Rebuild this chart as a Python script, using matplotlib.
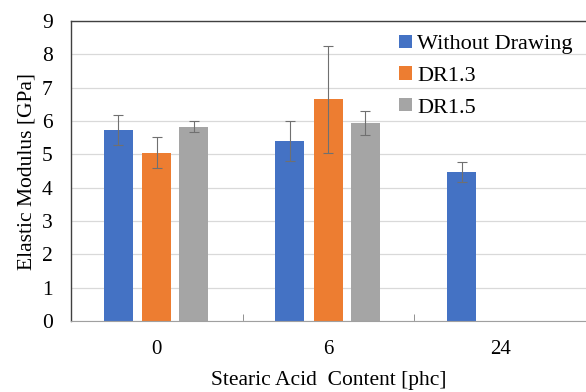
import numpy as np
import matplotlib.pyplot as plt

plt.rcParams['font.family'] = ['Liberation Serif', 'DejaVu Serif']

# Data
categories = ['0', '6', '24']
series_names = ['Without Drawing', 'DR1.3', 'DR1.5']
without_drawing = [5.73, 5.41, 4.48]
without_drawing_err = [0.44, 0.60, 0.30]
dr13 = [5.05, 6.65, np.nan]
dr13_err = [0.47, 1.60, np.nan]
dr15 = [5.83, 5.95, np.nan]
dr15_err = [0.17, 0.36, np.nan]

colors = ['#4472C4', '#ED7D31', '#A5A5A5']

fig = plt.figure(figsize=(5.86, 3.92), dpi=100)
ax = fig.add_axes([0.121, 0.181, 0.879, 0.765])

x = np.arange(len(categories))
bar_width = 0.17
offsets = [-0.225, 0.0, 0.215]
values = [without_drawing, dr13, dr15]
errors = [without_drawing_err, dr13_err, dr15_err]

for vals, errs, off, col, name in zip(values, errors, offsets, colors, series_names):
    ax.bar(x + off, vals, width=bar_width, color=col, label=name, zorder=2)
    ax.errorbar(x + off, vals, yerr=errs, fmt='none', ecolor='#707070',
                elinewidth=0.8, capsize=3.5, capthick=0.8, zorder=3)

ax.set_xlim(-0.5, 2.5)
ax.set_ylim(0, 9)
ax.set_yticks(range(0, 10))
ax.set_xticks(x)
ax.set_xticklabels(categories)
ax.set_xticks([0.5, 1.5], minor=True)
ax.tick_params(axis='x', which='major', length=0, pad=14, labelsize=15)
ax.tick_params(axis='x', which='minor', direction='in', length=5, color='#808080')
ax.tick_params(axis='y', length=0, pad=13, labelsize=15.5)

ax.grid(axis='y', color='#D9D9D9', linewidth=0.9, zorder=0)
ax.set_axisbelow(True)
for side in ['top', 'left']:
    ax.spines[side].set_color('#404040')
    ax.spines[side].set_linewidth(1.0)
ax.spines['bottom'].set_color('#a0a0a0')
ax.spines['right'].set_visible(False)

ax.set_xlabel('Stearic Acid  Content [phc]', fontsize=15.5, labelpad=8)
ax.set_ylabel('Elastic Modulus [GPa]', fontsize=15.5, labelpad=4)

ax.legend(loc='upper right', bbox_to_anchor=(1.0, 1.0), frameon=False,
          fontsize=16, handlelength=0.55, handleheight=0.55,
          handletextpad=0.25, labelspacing=0.55, borderaxespad=0.2)

fig.savefig('out.png', dpi=100)
